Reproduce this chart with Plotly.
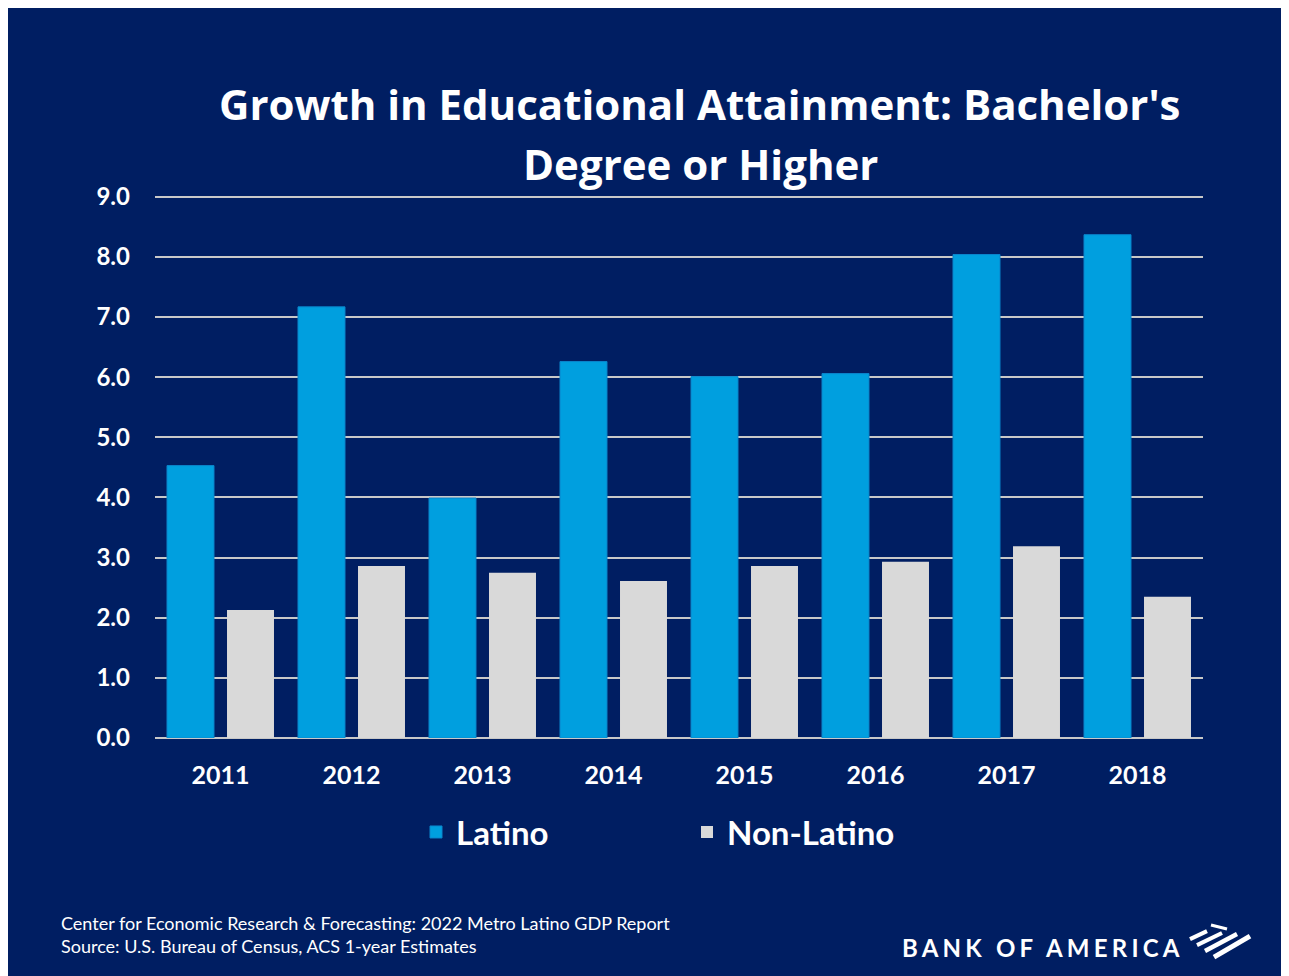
import plotly.graph_objects as go

years = ["2011", "2012", "2013", "2014", "2015", "2016", "2017", "2018"]
latino = [4.53, 7.17, 3.99, 6.26, 6.01, 6.06, 8.04, 8.37]
non_latino = [2.13, 2.86, 2.75, 2.61, 2.86, 2.93, 3.19, 2.35]
y_ticks = [0, 1, 2, 3, 4, 5, 6, 7, 8, 9]

# page has an 8px body margin, so the figure is 8px smaller than the window
OFF = 8
W, H = 1289 - OFF, 976 - OFF
Y_MAX = 9.03
L, R, B = 155, 1203, 738                  # reference-screen pixels
UNIT = (738 - 197) / 9.0
T = B - Y_MAX * UNIT
NAVY = "#001E62"
FONT = "Lato"


def px(x):
    return (x - L) / (R - L)


def py(y):
    return (B - y) / (B - T)


fig = go.Figure()
fig.add_trace(go.Bar(x=years, y=latino, name="Latino",
                     marker=dict(color="#009FDF", line=dict(color="#0A86CC", width=1))))
fig.add_trace(go.Bar(x=years, y=non_latino, name="Non-Latino",
                     marker=dict(color="#D9D9D9", line=dict(width=0))))

shapes = []
# Bank of America flag mark (decorative)
flag = [((1190, 939), (1207, 931), 4), ((1197, 945), (1222, 933), 4),
        ((1205, 951), (1237, 934), 4.5), ((1214, 957), (1250, 936), 5),
        ((1211, 925), (1227, 929), 3)]
for (x0, y0), (x1, y1), w in flag:
    shapes.append(dict(type="line", xref="paper", yref="paper",
                       x0=px(x0), y0=py(y0), x1=px(x1), y1=py(y1),
                       line=dict(color="white", width=w), layer="above"))

annotations = [
    dict(text="<b>Growth in Educational Attainment: Bachelor's</b>", x=px(700), y=py(104),
         xref="paper", yref="paper", xanchor="center", yanchor="middle", showarrow=False,
         font=dict(family="Open Sans", size=42, color="white")),
    dict(text="<b>Degree or Higher</b>", x=px(700), y=py(164),
         xref="paper", yref="paper", xanchor="center", yanchor="middle", showarrow=False,
         font=dict(family="Open Sans", size=42, color="white")),
    dict(text="Center for Economic Research &amp; Forecasting: 2022 Metro Latino GDP Report",
         x=px(59), y=py(923), xref="paper", yref="paper", xanchor="left", yanchor="middle",
         showarrow=False, font=dict(family=FONT, size=18, color="white")),
    dict(text="Source: U.S. Bureau of Census, ACS 1-year Estimates",
         x=px(59), y=py(946), xref="paper", yref="paper", xanchor="left", yanchor="middle",
         showarrow=False, font=dict(family=FONT, size=18, color="white")),
    dict(text="<span style='letter-spacing:4.2px'><b>BANK OF AMERICA</b></span>",
         x=px(900), y=py(947), xref="paper", yref="paper", xanchor="left", yanchor="middle",
         showarrow=False, font=dict(family=FONT, size=24, color="white")),
]

fig.update_layout(
    width=W, height=H,
    margin=dict(l=L - OFF, r=W - (R - OFF), t=T - OFF, b=H - (B - OFF), autoexpand=False),
    paper_bgcolor=NAVY, plot_bgcolor=NAVY,
    barmode="group", bargap=0.084, bargroupgap=0.217,
    font=dict(family=FONT, color="white"),
    showlegend=True,
    legend=dict(orientation="h", x=px(416), y=py(832), xanchor="left", yanchor="middle",
                font=dict(family=FONT, size=33, color="white", weight="bold"),
                bgcolor="rgba(0,0,0,0)", entrywidth=226, traceorder="normal"),
    shapes=shapes, annotations=annotations,
)
fig.update_xaxes(showgrid=False, zeroline=False, showline=False,
                 tickfont=dict(family=FONT, size=25, color="white", weight="bold"),
                 ticklabelstandoff=20)
fig.update_yaxes(range=[0, Y_MAX], tickvals=y_ticks, tickformat=".1f",
                 showgrid=True, gridcolor="#C8C8C8", gridwidth=2,
                 zeroline=True, zerolinecolor="#C8C8C8", zerolinewidth=2,
                 tickfont=dict(family=FONT, size=24, color="white", weight="bold"),
                 ticklabelstandoff=24)

fig.write_html("out.html")
